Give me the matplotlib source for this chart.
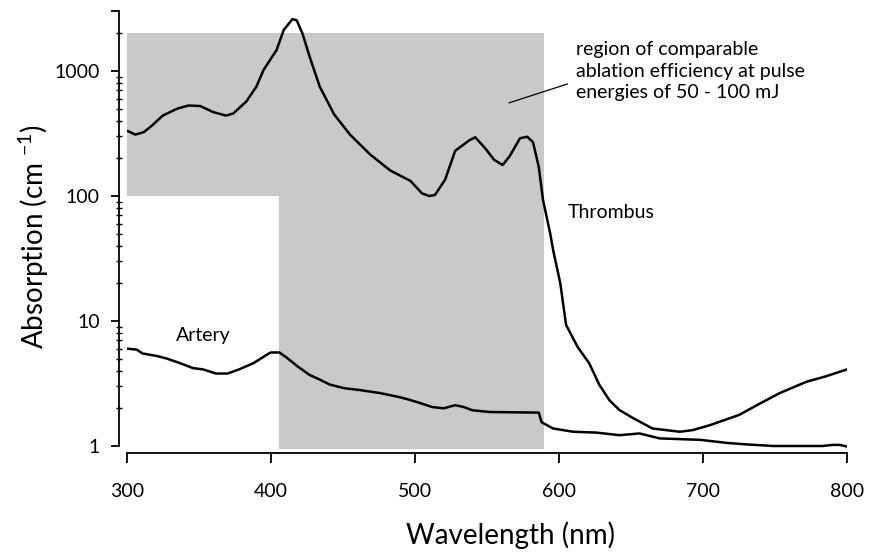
import matplotlib
matplotlib.use('Agg')
import matplotlib.pyplot as plt
import numpy as np

# --------- Data ---------
# Thrombus absorption spectrum (wavelength nm, absorption 1/cm)
thrombus_wl = [301, 306, 312, 318, 325, 335, 343, 351, 360, 369, 374, 383, 390, 395,
               404, 409, 415, 418, 422, 427, 434, 444, 455, 469, 483, 497, 505, 510,
               514, 521, 528, 538, 542, 549, 555, 561, 566, 573, 578, 582, 586, 589,
               594, 596, 601, 605, 613, 621, 628, 635, 642, 652, 665, 684, 693, 705,
               725, 740, 753, 772, 785, 800]
thrombus_abs = [330, 310, 325, 370, 440, 500, 530, 525, 470, 440, 458, 570, 750, 1020,
                1470, 2130, 2600, 2550, 2000, 1300, 750, 450, 310, 215, 160, 132, 105, 100,
                102, 135, 230, 280, 295, 240, 195, 177, 210, 290, 298, 270, 172, 93,
                50, 37, 20, 9.3, 6.2, 4.6, 3.1, 2.33, 1.94, 1.66, 1.38, 1.30, 1.34, 1.47,
                1.77, 2.2, 2.64, 3.27, 3.6, 4.1]

# Artery absorption spectrum
artery_wl = [301, 307, 311, 321, 328, 337, 346, 353, 362, 370, 378, 388, 397, 400,
             406, 411, 419, 427, 434, 441, 451, 462, 476, 490, 497, 504, 512, 520,
             528, 534, 540, 552, 586, 588, 596, 610, 626, 642, 656, 670, 698, 716,
             730, 749, 783, 790, 795, 800]
artery_abs = [6.0, 5.9, 5.5, 5.25, 5.0, 4.6, 4.2, 4.1, 3.8, 3.8, 4.1, 4.6, 5.35, 5.6,
              5.6, 5.1, 4.3, 3.7, 3.4, 3.1, 2.9, 2.8, 2.65, 2.45, 2.33, 2.2, 2.05, 2.0,
              2.12, 2.05, 1.93, 1.87, 1.85, 1.55, 1.38, 1.30, 1.28, 1.22, 1.26, 1.15, 1.12, 1.06,
              1.03, 1.0, 1.0, 1.02, 1.02, 0.99]

# Shaded region (comparable ablation efficiency)
SHADE_X = [300, 406, 406, 590, 590, 300]
SHADE_Y = [100, 100, 0.95, 0.95, 2000, 2000]

x_ticks = [300, 400, 500, 600, 700, 800]
y_ticks = [1, 10, 100, 1000, 3000]
y_ticklabels = ['1', '10', '100', '1000', '']

FONT = 'Lato'
plt.rcParams['font.family'] = [FONT, 'DejaVu Sans']
plt.rcParams['mathtext.fontset'] = 'custom'
plt.rcParams['mathtext.rm'] = FONT

# --------- Figure ---------
fig = plt.figure(figsize=(8.72, 5.57), dpi=100)
ax = fig.add_axes([126.7 / 872, 0.1943, (847 - 126.7) / 872, 0.9795 - 0.1943])

ax.fill(SHADE_X, SHADE_Y, color='#c9c9c9', linewidth=0, zorder=1)
ax.plot(thrombus_wl, thrombus_abs, color='black', linewidth=1.8, zorder=3)
ax.plot(artery_wl, artery_abs, color='black', linewidth=1.8, zorder=3)

ax.set_yscale('log')
ax.set_xlim(300, 800)
ax.set_ylim(0.95, 3000)

# spines - offset, Excel style
for s in ['top', 'right']:
    ax.spines[s].set_visible(False)
ax.spines['left'].set_position(('outward', 5.5))
ax.spines['bottom'].set_position(('outward', 2.8))
ax.spines['left'].set_bounds(1, 3000)
ax.spines['bottom'].set_bounds(300, 800)
ax.spines['left'].set_linewidth(1.3)
ax.spines['bottom'].set_linewidth(1.3)

ax.set_xticks(x_ticks)
ax.set_xticklabels([str(v) for v in x_ticks])
ax.set_yticks(y_ticks)
ax.set_yticklabels(y_ticklabels)
ax.tick_params(axis='x', direction='out', length=7, width=1.3, labelsize=14, pad=15)
ax.tick_params(axis='y', which='major', direction='out', length=6, width=1.3,
               labelsize=14, pad=8)
ax.tick_params(axis='y', which='minor', direction='inout', length=4, width=1.0)

# axis labels
fig.text(34 / 872, 1 - 237 / 557, 'Absorption (cm $^{\\mathregular{-1}}$)',
         rotation=90, ha='center', va='center', fontsize=20)
fig.text(510 / 872, 1 - 535 / 557, 'Wavelength (nm)', ha='center', va='center',
         fontsize=20)

# annotations
ax.text(353, 7.6, 'Artery', ha='center', va='center', fontsize=14)
ax.text(636, 74, 'Thrombus', ha='center', va='center', fontsize=14)
ax.text(612, 1000, 'region of comparable\nablation efficiency at pulse\nenergies of 50 - 100 mJ',
        ha='left', va='center', fontsize=14, linespacing=1.3)
ax.plot([565.5, 605.8], [557, 787], color='black', linewidth=0.9, zorder=4)

fig.savefig('out.png', dpi=100)
